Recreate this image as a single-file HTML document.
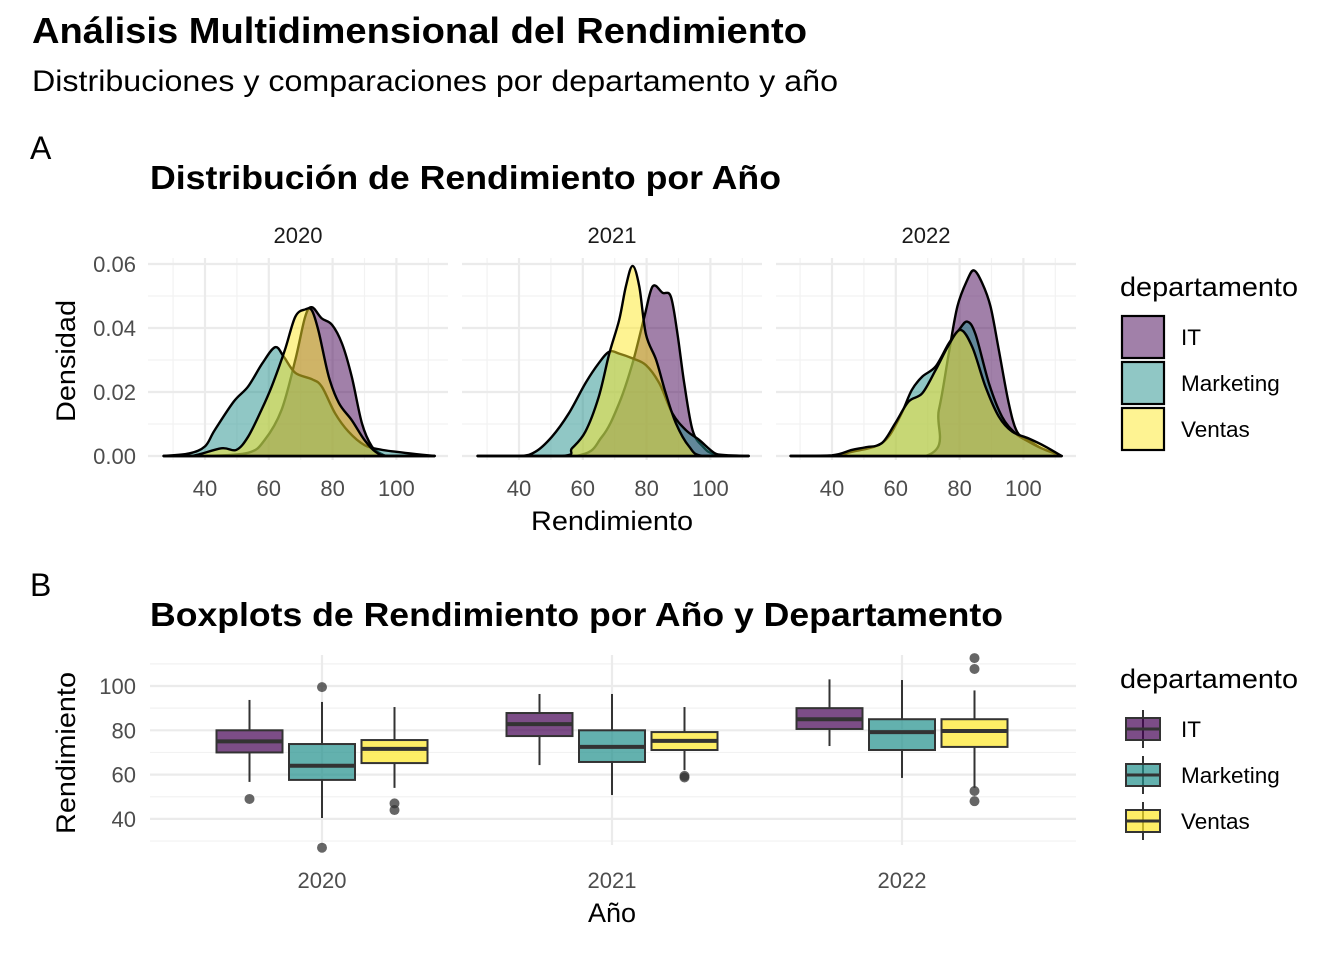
<!DOCTYPE html>
<html><head><meta charset="utf-8"><style>
body{margin:0;background:#fff;}
svg text{font-family:"Liberation Sans",sans-serif;}
</style></head><body>
<svg id="c" width="1344" height="960" xmlns="http://www.w3.org/2000/svg">
<text x="32" y="43" font-size="36" font-weight="bold" fill="#000" textLength="775" lengthAdjust="spacingAndGlyphs">Análisis Multidimensional del Rendimiento</text>
<text x="32" y="91" font-size="30" fill="#000" textLength="806" lengthAdjust="spacingAndGlyphs">Distribuciones y comparaciones por departamento y año</text>
<text x="30" y="159" font-size="32" fill="#000">A</text>
<text x="150" y="189" font-size="33" font-weight="bold" fill="#000" textLength="631" lengthAdjust="spacingAndGlyphs">Distribución de Rendimiento por Año</text>
<text x="30" y="596" font-size="32" fill="#000">B</text>
<text x="150" y="626" font-size="33" font-weight="bold" fill="#000" textLength="853" lengthAdjust="spacingAndGlyphs">Boxplots de Rendimiento por Año y Departamento</text>
<g id="gA"></g><g id="gB"></g>
</svg>
<script>
const depts=["IT","Marketing","Ventas"];
const years=["2020","2021","2022"];
const colors=["#440154","#21908C","#FDE725"];
const densTicksX=[40,60,80,100];
const densTicksY=[0,0.02,0.04,0.06];
const densTickLabelsY=["0.00","0.02","0.04","0.06"];
// density series: [year][dept] x and y
const dX={
"2020":{IT:[40,53.5,58.7,64,68.3,71.4,73.5,76.6,79.8,83,86,89.2,92.3,95.4,98.5],
 Marketing:[35,40,43,49,53.5,58,62,64.7,68.3,73.5,76.6,80.8,85,90,95,100,106],
 Ventas:[35.7,45.1,49.8,53.5,57.7,60.9,65,68.3,71.4,73.5,75.6,78.8,82,86,90,93.5,97.6]},
"2021":{IT:[57.7,66,71.4,75.6,79.3,81.9,85,87.6,89.7,91.8,94.4,97.6,101.5],
 Marketing:[40,45.1,50.3,55.6,60.8,65,68.3,71.4,75.6,79.8,84,88.1,92.3,96.5,101.5,105.7],
 Ventas:[53.5,56.6,60.8,65,68.3,71.4,73.5,75.6,77.7,79.8,83,86,89.2,93.3,97.6]},
"2022":{IT:[69.3,73.5,76.6,79.3,82.4,84.5,87.1,89.7,92.3,95.4,98,101.6,105.7],
 Marketing:[40,46.2,53.5,57.7,61.8,65,68.3,72.5,76.6,79.8,82.4,85,89.2,93.3,97.5,101.6,105.7],
 Ventas:[40,46.2,50.4,55.6,59.8,64,68.3,72.5,76.6,80.3,84,88.1,92.3,96.5,101.6,106.8]}
};
const dY={
"2020":{IT:[0,.001,.005,.0144,.030,.0435,.0465,.043,.041,.035,.0248,.0102,.003,.0006,0],
 Marketing:[.0008,.003,.008,.017,.0217,.029,.034,.031,.026,.024,.0217,.0133,.0076,.0034,.002,.0013,.0006],
 Ventas:[0,.0024,.0019,.006,.0144,.0217,.033,.0435,.0458,.0455,.039,.0248,.0165,.0112,.005,.0013,0]},
"2021":{IT:[0,.006,.0165,.029,.0435,.053,.051,.0498,.038,.0227,.0081,.003,.0006],
 Marketing:[0,.0013,.006,.0133,.0227,.029,.0326,.032,.0305,.0284,.0227,.0133,.0081,.005,.0008,0],
 Ventas:[0,.0024,.0076,.0185,.032,.0425,.053,.0594,.053,.038,.030,.0196,.0102,.003,0]},
"2022":{IT:[0,.0144,.032,.0467,.055,.058,.054,.0467,.0331,.0165,.0076,.005,.0024],
 Marketing:[0,.0013,.003,.006,.0133,.0206,.0248,.028,.0352,.0394,.042,.038,.0227,.0123,.0071,.0045,.0024],
 Ventas:[.0002,.0019,.0027,.004,.0102,.017,.0196,.0269,.0347,.0394,.034,.0217,.0123,.0076,.0055,.003]}
};
// boxplot stats [year][dept]: [lowWhisker,q1,median,q3,highWhisker]
const boxStats={
"2020":{IT:[56.7,70,75,80,93.7],Marketing:[40.4,57.6,64,73.8,92.8],Ventas:[54,65.2,71.6,75.6,90.5]},
"2021":{IT:[64.3,77.4,82.8,87.8,96.4],Marketing:[50.8,65.7,72.5,80,96.4],Ventas:[62,71.1,75.2,79.2,90.5]},
"2022":{IT:[72.9,80.6,85,90,103],Marketing:[58.5,71.1,79.2,85,102.7],Ventas:[54,72.5,79.7,85,98]}
};
const outliers={
"2020":{IT:[49],Marketing:[99.5,27],Ventas:[47,44]},
"2021":{IT:[],Marketing:[],Ventas:[59.4,58.7]},
"2022":{IT:[],Marketing:[],Ventas:[112.6,107.7,52.6,48]}
};
const boxTicksY=[40,60,80,100];

const NS="http://www.w3.org/2000/svg";
function mk(tag,attrs,parent,txt){const e=document.createElementNS(NS,tag);for(const k in attrs)e.setAttribute(k,attrs[k]);if(txt!==undefined)e.textContent=txt;parent.appendChild(e);return e;}
const gA=document.getElementById('gA'),gB=document.getElementById('gB');

// ---- Panel A ----
const facetLeft=[148,462,776],facetW=300;
function xA(f,v){return [205,519,832][f]+(v-40)*3.19;}
function yA(d){return 456-d*3200;}
const pTop=258,pBot=460;
function smooth(pts){let d="M"+pts[0][0]+","+pts[0][1];for(let i=0;i<pts.length-1;i++){const p0=pts[Math.max(0,i-1)],p1=pts[i],p2=pts[i+1],p3=pts[Math.min(pts.length-1,i+2)];const c1=[p1[0]+(p2[0]-p0[0])/6,p1[1]+(p2[1]-p0[1])/6],c2=[p2[0]-(p3[0]-p1[0])/6,p2[1]-(p3[1]-p1[1])/6];d+=` C${c1[0]},${Math.min(c1[1],456)} ${c2[0]},${Math.min(c2[1],456)} ${p2[0]},${p2[1]}`;}return d;}
years.forEach((yr,f)=>{
  const L=facetLeft[f],R=L+facetW;
  const g=mk('g',{},gA);
  
  
  [30,50,70,90,110].forEach(v=>{const x=xA(f,v);if(x>L&&x<R){const l=mk('line',{x1:x,x2:x,y1:pTop,y2:pBot,stroke:'#f2f2f2','stroke-width':1.2},g);}});
  [0.01,0.03,0.05].forEach(v=>{const l=mk('line',{x1:L,x2:R,y1:yA(v),y2:yA(v),stroke:'#f2f2f2','stroke-width':1.2},g);});
  densTicksX.forEach(v=>{const l=mk('line',{x1:xA(f,v),x2:xA(f,v),y1:pTop,y2:pBot,stroke:'#ebebeb','stroke-width':2.2},g);
    const t=mk('text',{x:xA(f,v),y:496,'font-size':22,fill:'#4d4d4d','text-anchor':'middle'},g,String(v));});
  densTicksY.forEach(v=>{const l=mk('line',{x1:L,x2:R,y1:yA(v),y2:yA(v),stroke:'#ebebeb','stroke-width':2.2},g);});
  const st=mk('text',{x:(L+R)/2,y:243,'font-size':22,fill:'#1a1a1a','text-anchor':'middle'},g,yr);
  
  depts.forEach((dp,i)=>{
    const xs=dX[yr][dp],ys=dY[yr][dp];
    const pts=[[xA(f,27),456]];
    xs.forEach((x,k)=>pts.push([xA(f,x),yA(ys[k])]));
    pts.push([xA(f,112),456]);
    const d=smooth(pts);
    const p=mk('path',{d:d+` L${xA(f,112)},456 L${xA(f,27)},456 Z`,fill:colors[i],'fill-opacity':0.5,stroke:'#000','stroke-width':2.4,'stroke-linejoin':'round'},g);
    
    
  });
});
densTicksY.forEach((v,k)=>{const t=mk('text',{x:136,y:yA(v)+8,'font-size':22,fill:'#4d4d4d','text-anchor':'end'},gA,densTickLabelsY[k]);});
let t=mk('text',{x:0,y:0,'font-size':27,fill:'#000','text-anchor':'middle',textLength:122,lengthAdjust:'spacingAndGlyphs',transform:'translate(75,361) rotate(-90)'},gA,'Densidad');

t=mk('text',{x:612,y:530,'font-size':27,fill:'#000','text-anchor':'middle',textLength:162,lengthAdjust:'spacingAndGlyphs'},gA,'Rendimiento');

t=mk('text',{x:1120,y:296,'font-size':27,fill:'#000',textLength:178,lengthAdjust:'spacingAndGlyphs'},gA,'departamento');

depts.forEach((dp,i)=>{const y=316+i*46;
  const r=mk('rect',{x:1122,y:y,width:42,height:42,fill:colors[i],'fill-opacity':0.5,stroke:'#000','stroke-width':2.2},gA);
  
  const l=mk('text',{x:1181,y:y+29,'font-size':22.5,fill:'#000'},gA,dp);
  });

// ---- Panel B ----
const bL=150,bR=1076,bT=655,bBt=845;
const yB=v=>686+(100-v)*2.215;
const xCat=[322,612,902];
[30,50,70,90,110].forEach(v=>{const l=mk('line',{x1:bL,x2:bR,y1:yB(v),y2:yB(v),stroke:'#f2f2f2','stroke-width':1.2},gB);});
boxTicksY.forEach(v=>{const l=mk('line',{x1:bL,x2:bR,y1:yB(v),y2:yB(v),stroke:'#ebebeb','stroke-width':2.2},gB);
  const tt=mk('text',{x:136,y:yB(v)+8,'font-size':22,fill:'#4d4d4d','text-anchor':'end'},gB,String(v));});
years.forEach((yr,c)=>{
  const l=mk('line',{x1:xCat[c],x2:xCat[c],y1:bT,y2:bBt,stroke:'#ebebeb','stroke-width':2.2},gB);
  const tt=mk('text',{x:xCat[c],y:888,'font-size':22,fill:'#4d4d4d','text-anchor':'middle'},gB,yr);
});
years.forEach((yr,c)=>{
  depts.forEach((dp,i)=>{
    const cx=xCat[c]+(i-1)*72.5,w=66;
    const s=boxStats[yr][dp];
    const g=mk('g',{},gB);
    
    
    mk('line',{x1:cx,x2:cx,y1:yB(s[4]),y2:yB(s[3]),stroke:'#333','stroke-width':2},g);
    mk('line',{x1:cx,x2:cx,y1:yB(s[1]),y2:yB(s[0]),stroke:'#333','stroke-width':2},g);
    mk('rect',{x:cx-w/2,y:yB(s[3]),width:w,height:yB(s[1])-yB(s[3]),fill:colors[i],'fill-opacity':0.7,stroke:'#333','stroke-width':2},g);
    mk('line',{x1:cx-w/2,x2:cx+w/2,y1:yB(s[2]),y2:yB(s[2]),stroke:'#333','stroke-width':4},g);
    outliers[yr][dp].forEach(v=>{const o=mk('circle',{cx:cx,cy:yB(v),r:5,fill:'#333','fill-opacity':0.75},g);});
  });
});
t=mk('text',{x:0,y:0,'font-size':27,fill:'#000','text-anchor':'middle',textLength:162,lengthAdjust:'spacingAndGlyphs',transform:'translate(75,753) rotate(-90)'},gB,'Rendimiento');

t=mk('text',{x:612,y:922,'font-size':27,fill:'#000','text-anchor':'middle'},gB,'Año');

t=mk('text',{x:1120,y:688,'font-size':27,fill:'#000',textLength:178,lengthAdjust:'spacingAndGlyphs'},gB,'departamento');

depts.forEach((dp,i)=>{const y=708+i*46;
  const g=mk('g',{},gB);
  
  mk('line',{x1:1143,x2:1143,y1:y+2,y2:y+40,stroke:'#333','stroke-width':2},g);
  mk('rect',{x:1126,y:y+10,width:34,height:22,fill:colors[i],'fill-opacity':0.7,stroke:'#333','stroke-width':2},g);
  mk('line',{x1:1126,x2:1160,y1:y+21,y2:y+21,stroke:'#333','stroke-width':3},g);
  const l=mk('text',{x:1181,y:y+29,'font-size':22.5,fill:'#000'},gB,dp);
  });
</script>
</body></html>
